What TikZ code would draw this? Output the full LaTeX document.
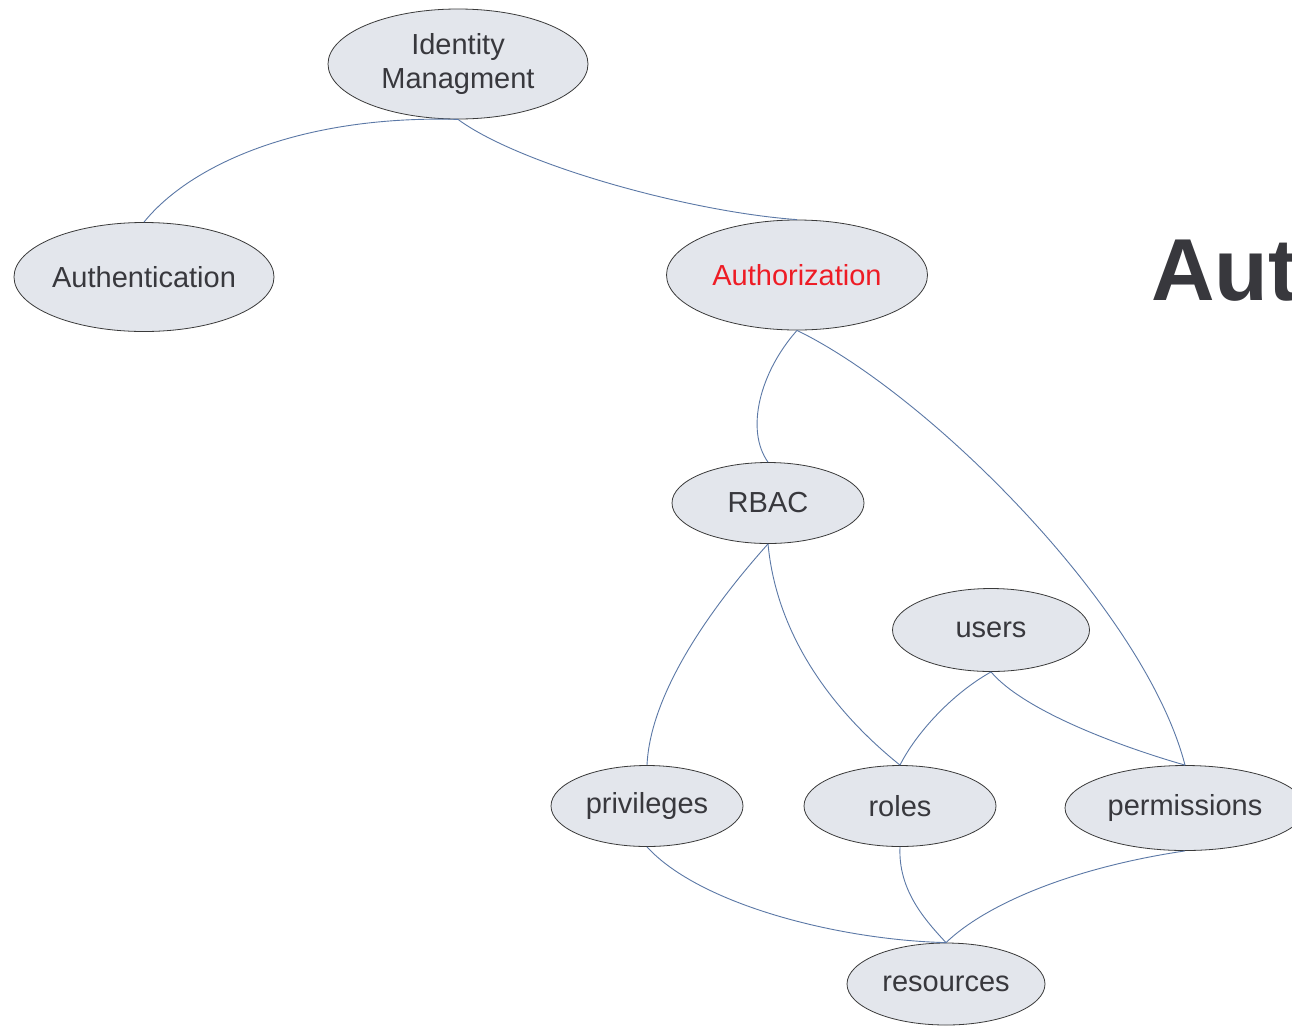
\documentclass[tikz,border=0pt]{standalone}
\usepackage{fontspec}
\setmainfont{Liberation Sans}
\usetikzlibrary{shapes.geometric}
\definecolor{nodefill}{HTML}{E3E6EC}
\definecolor{nodeborder}{HTML}{3A3A3A}
\definecolor{edgecol}{HTML}{5B78A6}
\definecolor{textcol}{HTML}{38383D}
\definecolor{redtext}{HTML}{EE1C25}
\begin{document}
\begin{tikzpicture}[x=1pt,y=-1pt,
  ent/.style={ellipse,draw=nodeborder,fill=nodefill,line width=0.8pt,inner sep=0pt,
    text=textcol,font=\fontsize{29}{34}\selectfont,align=center},
  link/.style={draw=edgecol,line width=0.9pt}]
\clip (0,0) rectangle (1292,1026);
\fill[white] (0,0) rectangle (1292,1026);
\node[ent,minimum width=260,minimum height=110] (idm) at (458,64) {Identity\\Managment};
\node[ent,minimum width=260,minimum height=109] (authn) at (144,277) {Authentication};
\node[ent,minimum width=261,minimum height=110,text=redtext] (authz) at (797,275) {Authorization};
\node[ent,minimum width=192,minimum height=81] (rbac) at (768,503) {RBAC};
\node[ent,minimum width=197,minimum height=83] (users) at (991,630) {users};
\node[ent,minimum width=192,minimum height=81] (priv) at (647,806) {privileges};
\node[ent,minimum width=192,minimum height=81] (roles) at (900,806) {roles};
\node[ent,minimum width=240,minimum height=85] (perm) at (1185,808) {permissions};
\node[ent,minimum width=198,minimum height=82] (res) at (946,984) {resources};
\node[anchor=base west,inner sep=0pt,text=textcol,font=\fontsize{88}{100}\selectfont\bfseries] (title) at (1151,300) {Aut};
\path[link] (idm.south) .. controls (300,115) and (190,165) .. (authn.north);
\path[link] (idm.south) .. controls (520,165) and (690,212) .. (authz.north);
\path[link] (authz.south) .. controls (760,372) and (745,430) .. (rbac.north);
\path[link] (authz.south) .. controls (930,395) and (1145,610) .. (perm.north);
\path[link] (rbac.south) .. controls (700,620) and (650,700) .. (priv.north);
\path[link] (rbac.south) .. controls (778,650) and (850,725) .. (roles.north);
\path[link] (users.south) .. controls (950,695) and (915,735) .. (roles.north);
\path[link] (users.south) .. controls (1025,712) and (1125,748) .. (perm.north);
\path[link] (priv.south) .. controls (700,905) and (840,940) .. (res.north);
\path[link] (roles.south) .. controls (898,890) and (925,920) .. (res.north);
\path[link] (perm.south) .. controls (1070,868) and (985,905) .. (res.north);
\end{tikzpicture}
\end{document}
